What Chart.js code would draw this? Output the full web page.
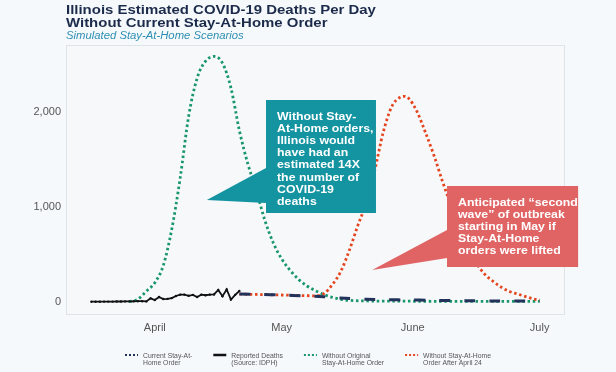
<!DOCTYPE html>
<html>
<head>
<meta charset="utf-8">
<script src="https://cdn.jsdelivr.net/npm/chart.js@4.4.1/dist/chart.umd.min.js"></script>
<style>
  html, body { margin: 0; padding: 0; background: #f5f9fb; }
  canvas { display: block; }
</style>
</head>
<body>
<canvas id="deathsChart" width="616" height="372"></canvas>
<script>
// days are counted from April 1 (0 = Apr 1, 30 = May 1, 61 = Jun 1, 91 = Jul 1)
const tickDays = [0, 30, 61, 91];
const tickLabels = ['April', 'May', 'June', 'July'];
const yTicks = [0, 1000, 2000];

const reportedDays = [-15, -14, -13, -12, -11, -10, -9, -8, -7, -6, -5, -4, -3, -2, -1, 0, 1, 2, 3, 4,
  5, 6, 7, 8, 9, 10, 11, 12, 13, 14, 15, 16, 17, 18, 19, 20];
const reportedDeaths = [0, 0, 0, 1, 1, 1, 2, 2, 3, 3, 4, 5, 5, 3, 35, 18, 50, 28, 30, 38,
  60, 74, 74, 62, 72, 50, 74, 68, 74, 76, 124, 58, 128, 22, 72, 112];

const currentDays = [20, 25, 30, 35, 40, 45, 50, 55, 60, 65, 70, 75, 80, 85, 91];
const currentDeaths = [80, 76, 70, 62, 52, 36, 26, 21, 18, 15, 12, 10, 8, 7, 6];

const noOriginalDays = [-6, -4, -2, 0, 2, 4, 6, 8, 10, 12, 14, 16, 18, 20, 22, 24, 26, 28, 30, 32,
  34, 36, 38, 40, 42, 44, 46, 50, 60, 70, 80, 91];
const noOriginalDeaths = [0, 25, 110, 200, 380, 760, 1300, 1950, 2350, 2530, 2580, 2510, 2250, 1800, 1450, 1170, 860, 620, 450, 330,
  235, 165, 115, 75, 45, 25, 14, 8, 5, 4, 3, 3];

const liftedDays = [20, 24, 28, 32, 36, 38, 40, 42, 44, 46, 48, 50, 52, 54, 56, 58, 59, 60, 62, 64,
  66, 68, 70, 72, 74, 76, 78, 80, 82, 84, 86, 88, 90, 91];
const liftedDeaths = [80, 76, 72, 68, 63, 62, 85, 180, 320, 540, 800, 1040, 1380, 1780, 2050, 2150, 2160, 2140, 2000, 1780,
  1540, 1270, 1020, 790, 580, 410, 290, 214, 150, 105, 78, 50, 25, 18];

const seriesNames = [
  ['Current Stay-At-', 'Home Order'],
  ['Reported Deaths', '(Source: IDPH)'],
  ['Without Original', 'Stay-At-Home Order'],
  ['Without Stay-At-Home', 'Order After April 24']
];

const FONT = "'Liberation Sans', Arial, Helvetica, sans-serif";

function toPoints(days, values) {
  return days.map((d, i) => ({ x: d, y: values[i] }));
}

// text that looks slightly wide in the reference
function wideText(ctx, text, x, y, sx) {
  ctx.save();
  ctx.translate(x, y);
  ctx.scale(sx, 1);
  ctx.fillText(text, 0, 0);
  ctx.restore();
}

function drawCallout(chart, c) {
  const ctx = chart.ctx;
  const xs = chart.scales.x, ys = chart.scales.y;
  const left = xs.getPixelForValue(c.x0), right = xs.getPixelForValue(c.x1);
  const top = ys.getPixelForValue(c.y0), bottom = ys.getPixelForValue(c.y1);
  ctx.save();
  ctx.fillStyle = c.color;
  ctx.beginPath();
  ctx.moveTo(left, top);
  ctx.lineTo(right, top);
  ctx.lineTo(right, bottom);
  ctx.lineTo(left, bottom);
  ctx.lineTo(left, ys.getPixelForValue(c.baseLow));
  ctx.lineTo(xs.getPixelForValue(c.tipX), ys.getPixelForValue(c.tipY));
  ctx.lineTo(left, ys.getPixelForValue(c.baseHigh));
  ctx.closePath();
  ctx.fill();
  ctx.fillStyle = '#ffffff';
  ctx.font = 'bold 11px ' + FONT;
  ctx.textBaseline = 'alphabetic';
  const tx = xs.getPixelForValue(c.textX);
  const ty = ys.getPixelForValue(c.textY);
  c.lines.forEach((line, i) => wideText(ctx, line, tx, ty + i * 12.1, 1.12));
  ctx.restore();
}

const frame = {
  id: 'frame',
  beforeDraw(chart) {
    const ctx = chart.ctx;
    const a = chart.chartArea;
    ctx.save();
    ctx.fillStyle = '#f5f9fb';
    ctx.fillRect(0, 0, chart.width, chart.height);
    ctx.fillStyle = '#f7f8fa';
    ctx.fillRect(a.left, a.top, a.right - a.left, a.bottom - a.top);
    ctx.strokeStyle = '#dfe2e6';
    ctx.lineWidth = 1;
    ctx.strokeRect(a.left + 0.5, a.top + 0.5, a.right - a.left - 1, a.bottom - a.top - 1);
    ctx.restore();
  },
  afterDraw(chart) {
    const ctx = chart.ctx;
    const a = chart.chartArea;

    drawCallout(chart, {
      color: '#1493a1',
      x0: 26.3, x1: 52.3, y0: 2121, y1: 933,
      tipX: 12.3, tipY: 1070, baseHigh: 1406, baseLow: 1038,
      textX: 28.9, textY: 1911,
      lines: ['Without Stay-', 'At-Home orders,', 'Illinois would', 'have had an',
        'estimated 14X', 'the number of', 'COVID-19', 'deaths']
    });
    drawCallout(chart, {
      color: '#e06464',
      x0: 69.1, x1: 100.1, y0: 1217, y1: 365,
      tipX: 51.4, tipY: 333, baseHigh: 754, baseLow: 460,
      textX: 71.7, textY: 1006,
      lines: ['Anticipated \u201csecond', 'wave\u201d of outbreak', 'starting in May if',
        'Stay-At-Home', 'orders were lifted']
    });

    // title block
    ctx.save();
    ctx.textBaseline = 'alphabetic';
    ctx.fillStyle = '#1c2b4b';
    ctx.font = 'bold 13px ' + FONT;
    wideText(ctx, 'Illinois Estimated COVID-19 Deaths Per Day', a.left, 14, 1.15);
    wideText(ctx, 'Without Current Stay-At-Home Order', a.left, 26.5, 1.15);
    ctx.fillStyle = '#2e8fb2';
    ctx.font = 'italic 10px ' + FONT;
    wideText(ctx, 'Simulated Stay-At-Home Scenarios', a.left, 38.5, 1.13);
    ctx.restore();

    // legend, two text lines per entry
    ctx.save();
    ctx.font = '6.5px ' + FONT;
    const sx = 1.05, sample = 13, gapText = 5, gapItem = 21;
    const widths = seriesNames.map(l => Math.max(...l.map(t => ctx.measureText(t).width)) * sx);
    const total = widths.reduce((s, w) => s + sample + gapText + w, 0) + gapItem * (widths.length - 1);
    let x = (chart.width - total) / 2;
    const legendOrder = [0, 1, 2, 3];
    legendOrder.forEach((di, i) => {
      const ds = chart.data.datasets[di];
      ctx.save();
      ctx.strokeStyle = ds.borderColor;
      if (di === 1) {
        ctx.lineWidth = 2.5;
        ctx.setLineDash([]);
      } else {
        ctx.lineWidth = 2;
        ctx.setLineDash([2, 2]);
      }
      ctx.beginPath();
      ctx.moveTo(x, 355);
      ctx.lineTo(x + sample, 355);
      ctx.stroke();
      ctx.restore();
      ctx.fillStyle = '#555555';
      seriesNames[di].forEach((t, j) => wideText(ctx, t, x + sample + gapText, 357.5 + j * 7, sx));
      x += sample + gapText + widths[i] + gapItem;
    });
    ctx.restore();
  }
};

new Chart(document.getElementById('deathsChart').getContext('2d'), {
  type: 'line',
  data: {
    datasets: [
      {
        label: seriesNames[0].join(' '),
        data: toPoints(currentDays, currentDeaths),
        borderColor: '#22325a',
        borderWidth: 3,
        borderDash: [11, 14],
        pointRadius: 0,
        tension: 0.3,
        order: 1
      },
      {
        label: seriesNames[1].join(' '),
        data: toPoints(reportedDays, reportedDeaths),
        borderColor: '#111111',
        backgroundColor: '#111111',
        borderWidth: 1.8,
        pointRadius: 1.2,
        pointBorderWidth: 0,
        tension: 0,
        order: 2
      },
      {
        label: seriesNames[2].join(' '),
        data: toPoints(noOriginalDays, noOriginalDeaths),
        borderColor: '#17966a',
        borderWidth: 2.8,
        borderDash: [2.5, 2.7],
        borderCapStyle: 'butt',
        pointRadius: 0,
        cubicInterpolationMode: 'monotone',
        order: 4
      },
      {
        label: seriesNames[3].join(' '),
        data: toPoints(liftedDays, liftedDeaths),
        borderColor: '#e4451e',
        borderWidth: 2.8,
        borderDash: [2.5, 2.7],
        borderCapStyle: 'butt',
        pointRadius: 0,
        cubicInterpolationMode: 'monotone',
        order: 3
      }
    ]
  },
  options: {
    responsive: false,
    animation: false,
    devicePixelRatio: 1,
    layout: { padding: { top: 45, right: 51, left: 0, bottom: 0 } },
    scales: {
      x: {
        type: 'linear',
        min: -21,
        max: 97,
        grid: { display: false, drawTicks: false },
        border: { display: false },
        afterBuildTicks: s => { s.ticks = tickDays.map(v => ({ value: v })); },
        afterFit: s => { s.height = 57; },
        ticks: {
          autoSkip: false,
          maxRotation: 0,
          padding: 6,
          color: '#555555',
          font: { family: FONT, size: 11 },
          callback: v => tickLabels[tickDays.indexOf(v)]
        }
      },
      y: {
        min: -140,
        max: 2700,
        grid: { display: false, drawTicks: false },
        border: { display: false },
        afterBuildTicks: s => { s.ticks = yTicks.map(v => ({ value: v })); },
        afterFit: s => { s.width = 66; },
        ticks: {
          padding: 5,
          color: '#555555',
          font: { family: FONT, size: 11 },
          callback: v => v.toLocaleString('en-US')
        }
      }
    },
    plugins: {
      legend: { display: false },
      title: { display: false },
      tooltip: { enabled: false }
    }
  },
  plugins: [frame]
});
</script>
</body>
</html>
